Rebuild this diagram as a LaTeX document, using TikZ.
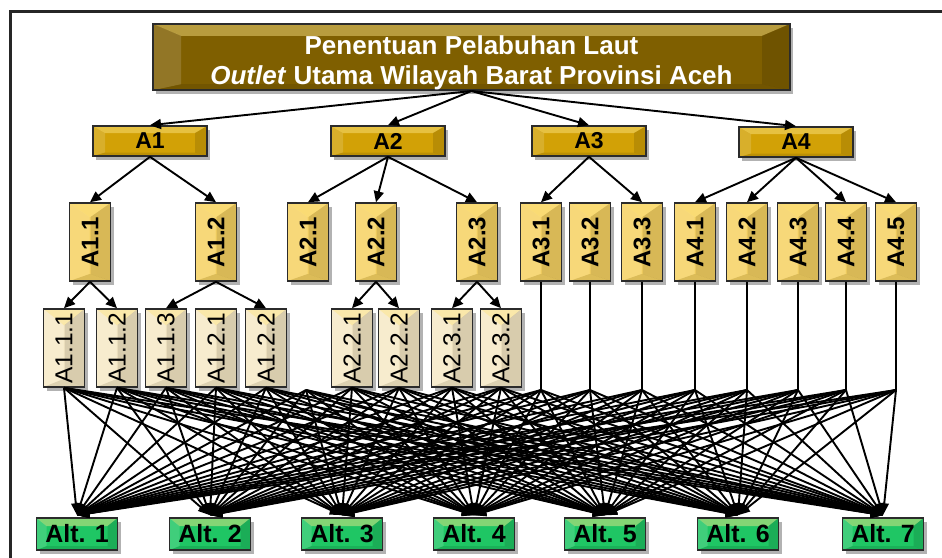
\documentclass[tikz,border=0pt]{standalone}
\usepackage{fontspec}
\usepackage{graphicx}
\setmainfont{Liberation Sans}
\usetikzlibrary{arrows.meta,shadows,calc}
\definecolor{titlecol}{HTML}{7F5F00}
\definecolor{goldcol}{HTML}{D2A106}
\definecolor{yelcol}{HTML}{F6D262}
\definecolor{creamcol}{HTML}{F6E9C6}
\definecolor{greencol}{HTML}{1FC664}
\definecolor{edgecol}{HTML}{2B2B2B}
\definecolor{bevlight}{HTML}{FFE88A}
\tikzset{
  bevel/.style 2 args={path picture={
    \coordinate (pnw) at (path picture bounding box.north west);
    \coordinate (pne) at (path picture bounding box.north east);
    \coordinate (psw) at (path picture bounding box.south west);
    \coordinate (pse) at (path picture bounding box.south east);
    \fill[bevlight,opacity=.45] (pnw) -- (pne) -- ([xshift=-#1pt,yshift=-#2pt]pne) -- ([xshift=#1pt,yshift=-#2pt]pnw) -- cycle;
    \fill[black,opacity=.10] (psw) -- (pse) -- ([xshift=-#1pt,yshift={0.5*#2pt}]pse) -- ([xshift=#1pt,yshift={0.5*#2pt}]psw) -- cycle;
    \fill[white,opacity=.15] (pnw) -- (psw) -- ([xshift=#1pt,yshift={0.5*#2pt}]psw) -- ([xshift=#1pt,yshift=-#2pt]pnw) -- cycle;
    \fill[black,opacity=.12] (pne) -- (pse) -- ([xshift=-#1pt,yshift={0.5*#2pt}]pse) -- ([xshift=-#1pt,yshift=-#2pt]pne) -- cycle;
  }},
}
\begin{document}
\begin{tikzpicture}[x=1pt,y=-1pt,
  box/.style={draw=edgecol, line width=1.6pt, inner sep=0pt, anchor=center,
    drop shadow={shadow xshift=3pt,shadow yshift=-4pt,fill=black,opacity=.3}},
  titlebox/.style={box, fill=titlecol, minimum width=637pt, minimum height=60pt, bevel={28}{12},
    text=white, font=\bfseries\fontsize{26}{30}\selectfont, align=center},
  lvone/.style={box, fill=goldcol, minimum width=114pt, minimum height=30pt, bevel={12}{7},
    font=\bfseries\fontsize{23}{23}\selectfont},
  lvtwo/.style={box, fill=yelcol, minimum width=41pt, minimum height=78pt, bevel={20}{14},
    font=\bfseries\fontsize{24}{24}\selectfont},
  lvthree/.style={box, fill=creamcol, minimum width=41pt, minimum height=78pt, bevel={20}{16},
    font=\fontsize{24.5}{24.5}\selectfont},
  altbox/.style={box, fill=greencol, minimum width=81pt, minimum height=32pt, bevel={10}{8},
    font=\bfseries\fontsize{25}{25}\selectfont},
  arr/.style={-{Triangle[length=11pt,width=10pt]}, line width=1.9pt, black},
  fan/.style={-{Triangle[length=12pt,width=9pt]}, line width=1.9pt, black},
  vline/.style={line width=1.6pt, black},
  frame/.style={line width=3pt, black!85},
]
\useasboundingbox (0,0) rectangle (942,557);
\clip (0,0) rectangle (942,557);
\draw[frame] (960,11) -- (10,11) -- (10,580);

% title
\node[titlebox] (t) at (471.5,57) {\rule{0pt}{31pt}Penentuan Pelabuhan Laut\\\textit{Outlet} Utama Wilayah Barat Provinsi Aceh};

% level 1
\node[lvone] (a1) at (150,141) {A1};
\node[lvone] (a2) at (388,141) {A2};
\node[lvone] (a3) at (589,141) {A3};
\node[lvone] (a4) at (796,142) {A4};

% level 2
\node[lvtwo] (a11) at (90,242) {\rotatebox{90}{A1.1}};
\node[lvtwo] (a12) at (216,242) {\rotatebox{90}{A1.2}};
\node[lvtwo] (a21) at (308,242) {\rotatebox{90}{A2.1}};
\node[lvtwo] (a22) at (376,242) {\rotatebox{90}{A2.2}};
\node[lvtwo] (a23) at (477,242) {\rotatebox{90}{A2.3}};
\node[lvtwo] (a31) at (541,242) {\rotatebox{90}{A3.1}};
\node[lvtwo] (a32) at (590,242) {\rotatebox{90}{A3.2}};
\node[lvtwo] (a33) at (642,242) {\rotatebox{90}{A3.3}};
\node[lvtwo] (a41) at (695,242) {\rotatebox{90}{A4.1}};
\node[lvtwo] (a42) at (747,242) {\rotatebox{90}{A4.2}};
\node[lvtwo] (a43) at (798,242) {\rotatebox{90}{A4.3}};
\node[lvtwo] (a44) at (846,242) {\rotatebox{90}{A4.4}};
\node[lvtwo] (a45) at (896,242) {\rotatebox{90}{A4.5}};

% level 3
\node[lvthree] (a111) at (64,348) {\rotatebox{90}{A1.1.1}};
\node[lvthree] (a112) at (117,348) {\rotatebox{90}{A1.1.2}};
\node[lvthree] (a113) at (166,348) {\rotatebox{90}{A1.1.3}};
\node[lvthree] (a121) at (216,348) {\rotatebox{90}{A1.2.1}};
\node[lvthree] (a122) at (266,348) {\rotatebox{90}{A1.2.2}};
\node[lvthree] (a221) at (352,348) {\rotatebox{90}{A2.2.1}};
\node[lvthree] (a222) at (399,348) {\rotatebox{90}{A2.2.2}};
\node[lvthree] (a231) at (452,348) {\rotatebox{90}{A2.3.1}};
\node[lvthree] (a232) at (501,348) {\rotatebox{90}{A2.3.2}};

% alternatives
\foreach \i/\x in {1/77,2/210,3/342,4/474,5/605,6/738,7/883}{
  \node[altbox] (alt\i) at (\x,534) {Alt. \i};
}

% fan points
\coordinate (f21) at (306,390);
\foreach \n/\x in {31/541,32/590,33/642,41/695,42/747,43/798,44/846,45/896}{
  \coordinate (f\n) at (\x,390);
}

% edges
\foreach \c in {a1,a2,a3,a4} \draw[arr] (t.south) -- (\c.north);
\foreach \p/\c in {a1/a11,a1/a12,a2/a21,a2/a22,a2/a23,a3/a31,a3/a33,a4/a41,a4/a42,a4/a44,a4/a45,
  a11/a111,a11/a112,a12/a113,a12/a122,a22/a221,a22/a222,a23/a231,a23/a232}
  \draw[arr] (\p.south) -- (\c.north);
\foreach \n in {31,32,33,41,42,43,44,45} \draw[vline] (a\n.south) -- (f\n);
\foreach \s in {a111.south,a112.south,a113.south,a121.south,a122.south,f21,a221.south,a222.south,a231.south,a232.south,f31,f32,f33,f41,f42,f43,f44,f45}
  \foreach \k in {1,...,7} \draw[fan] (\s) -- ([yshift=2pt]alt\k.north);
\end{tikzpicture}
\end{document}
